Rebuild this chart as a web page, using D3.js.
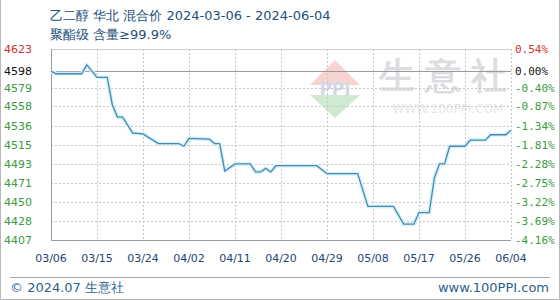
<!DOCTYPE html>
<html>
<head>
<meta charset="utf-8">
<script src="https://cdn.jsdelivr.net/npm/d3@7"></script>
<style>
  body { margin: 0; background: #fff; }
  svg text { font-family: "DejaVu Sans", Verdana, sans-serif; }
</style>
</head>
<body>
<div id="chart"></div>
<script>
const canvas_w = 560;
const canvas_h = 300;

// readings
const dates  = [ '2024-03-06', '2024-03-07', '2024-03-12', '2024-03-13', '2024-03-15', '2024-03-17',
                 '2024-03-18', '2024-03-19', '2024-03-20', '2024-03-22', '2024-03-24', '2024-03-27',
                 '2024-03-31', '2024-04-01', '2024-04-02', '2024-04-06', '2024-04-07', '2024-04-08',
                 '2024-04-09', '2024-04-11', '2024-04-14', '2024-04-15', '2024-04-16', '2024-04-17',
                 '2024-04-18', '2024-04-19', '2024-04-27', '2024-04-29', '2024-05-05', '2024-05-07',
                 '2024-05-12', '2024-05-14', '2024-05-16', '2024-05-17', '2024-05-19', '2024-05-20',
                 '2024-05-21', '2024-05-22', '2024-05-23', '2024-05-26', '2024-05-27', '2024-05-30',
                 '2024-05-31', '2024-06-03', '2024-06-04' ];
const prices = [ 4598, 4595, 4595, 4605, 4591, 4591,
                 4560, 4546, 4546, 4528, 4527, 4516,
                 4516, 4513, 4522, 4521, 4516, 4516,
                 4485, 4493, 4493, 4484, 4484, 4488,
                 4484, 4491, 4491, 4482, 4482, 4445,
                 4445, 4425, 4425, 4438, 4438, 4477,
                 4493, 4493, 4513, 4513, 4520, 4520,
                 4526, 4526, 4531 ];

const basePrice   = 4598;
const yTicks      = [ 4623, 4598, 4579, 4558, 4536, 4515, 4493, 4471, 4450, 4428, 4407 ];
const pctLabels   = [ '0.54%', '0.00%', '-0.40%', '-0.87%', '-1.34%', '-1.81%', '-2.28%',
                      '-2.75%', '-3.22%', '-3.69%', '-4.16%' ];
const xTicks      = [ '2024-03-06', '2024-03-15', '2024-03-24', '2024-04-02', '2024-04-11', '2024-04-20',
                      '2024-04-29', '2024-05-08', '2024-05-17', '2024-05-26', '2024-06-04' ];

const title1 = '乙二醇 华北 混合价 2024-03-06 - 2024-06-04';
const title2 = '聚酯级 含量≥99.9%';

const parse = d3.timeParse( '%Y-%m-%d' );
const fmt   = d3.timeFormat( '%m/%d' );

const pLeft = 51, pRight = 511, pTop = 49, pBottom = 240;

let x = d3.scaleTime()
          .domain( [ parse( xTicks[0] ), parse( xTicks[xTicks.length - 1] ) ] )
          .range( [ pLeft, pRight ] );
let y = d3.scaleLinear()
          .domain( [ 4407, 4623 ] )
          .range( [ pBottom, pTop ] );

let svg = d3.select( '#chart' )
            .append( 'svg' )
            .attr( 'width', canvas_w )
            .attr( 'height', canvas_h );

// outer frame (no top edge)
svg.append( 'path' )
   .attr( 'd', `M0.5,0 V${canvas_h - 0.5} H${canvas_w - 0.5} V0` )
   .attr( 'fill', 'none' )
   .attr( 'stroke', '#b8b8b8' );

// watermark
let wm = svg.append( 'g' ).attr( 'opacity', 0.22 );
wm.append( 'path' ).attr( 'd', 'M335,60 L360,85 L310,85 Z' ).attr( 'fill', '#e04030' );
wm.append( 'path' ).attr( 'd', 'M310,95 L360,95 L335,118 Z' ).attr( 'fill', '#30a030' );
wm.append( 'text' ).attr( 'x', 335 ).attr( 'y', 95 ).attr( 'text-anchor', 'middle' )
  .attr( 'font-size', 17 ).attr( 'font-weight', 'bold' ).attr( 'fill', '#3050a0' ).text( 'PPI' );
wm.append( 'text' ).attr( 'x', 448 ).attr( 'y', 88 ).attr( 'text-anchor', 'middle' )
  .attr( 'font-size', 36 ).attr( 'font-weight', 'bold' ).attr( 'letter-spacing', 10 )
  .attr( 'fill', '#606878' ).text( '生意社' );
wm.append( 'text' ).attr( 'x', 448 ).attr( 'y', 113 ).attr( 'text-anchor', 'middle' )
  .attr( 'font-size', 12 ).attr( 'fill', '#8890a0' ).text( 'WWW.100PPI.COM' );

// grid
svg.append( 'g' )
   .selectAll( 'line' )
   .data( yTicks.slice( 1, -1 ) )
   .enter()
   .append( 'line' )
   .attr( 'x1', pLeft ).attr( 'x2', pRight )
   .attr( 'y1', d => Math.round( y( d ) ) + 0.5 )
   .attr( 'y2', d => Math.round( y( d ) ) + 0.5 )
   .attr( 'stroke', '#c8c8c8' )
   .attr( 'stroke-dasharray', '2,2' );

svg.append( 'g' )
   .selectAll( 'line' )
   .data( xTicks.slice( 1 ) )
   .enter()
   .append( 'line' )
   .attr( 'x1', d => Math.round( x( parse( d ) ) ) + 0.5 )
   .attr( 'x2', d => Math.round( x( parse( d ) ) ) + 0.5 )
   .attr( 'y1', pTop ).attr( 'y2', pBottom )
   .attr( 'stroke', '#c8c8c8' )
   .attr( 'stroke-dasharray', '2,2' );

// top edge
svg.append( 'line' )
   .attr( 'x1', pLeft ).attr( 'x2', pRight )
   .attr( 'y1', pTop + 0.5 ).attr( 'y2', pTop + 0.5 )
   .attr( 'stroke', '#cfcfcf' );

// base price line
svg.append( 'line' )
   .attr( 'x1', pLeft ).attr( 'x2', pRight )
   .attr( 'y1', Math.round( y( basePrice ) ) + 0.5 )
   .attr( 'y2', Math.round( y( basePrice ) ) + 0.5 )
   .attr( 'stroke', '#9a9a9a' );

// left & bottom axis lines
svg.append( 'path' )
   .attr( 'd', `M${pLeft + 0.5},${pTop} V${pBottom + 0.5} H${pRight}` )
   .attr( 'fill', 'none' )
   .attr( 'stroke', '#9a9a9a' );

// price line with glow
let line = d3.line()
             .x( (d, i) => x( parse( dates[i] ) ) )
             .y( d => y( d ) );

svg.append( 'path' )
   .attr( 'd', line( prices ) )
   .attr( 'fill', 'none' )
   .attr( 'stroke', '#d4f2fa' )
   .attr( 'stroke-width', 4 )
   .attr( 'stroke-linejoin', 'round' );
svg.append( 'path' )
   .attr( 'd', line( prices ) )
   .attr( 'fill', 'none' )
   .attr( 'stroke', '#4a88b2' )
   .attr( 'stroke-width', 1.3 );

// left labels
const tickColor = (i) => i === 0 ? '#d03030' : ( i === 1 ? '#111' : '#3c9a3c' );
svg.append( 'g' )
   .selectAll( 'text' )
   .data( yTicks )
   .enter()
   .append( 'text' )
   .attr( 'x', 4 )
   .attr( 'y', d => y( d ) + 4 )
   .attr( 'font-size', 11 )
   .attr( 'font-family', 'Verdana, "DejaVu Sans", sans-serif' )
   .attr( 'fill', (d, i) => tickColor( i ) )
   .text( d => d );

// right labels
svg.append( 'g' )
   .selectAll( 'text' )
   .data( pctLabels )
   .enter()
   .append( 'text' )
   .attr( 'x', 515 )
   .attr( 'y', (d, i) => y( yTicks[i] ) + 4 )
   .attr( 'font-size', 11 )
   .style( 'font-family', '"DejaVu Sans Mono", monospace' )
   .attr( 'fill', (d, i) => tickColor( i ) )
   .text( d => d );

// x labels
svg.append( 'g' )
   .selectAll( 'text' )
   .data( xTicks )
   .enter()
   .append( 'text' )
   .attr( 'x', d => x( parse( d ) ) )
   .attr( 'y', 262 )
   .attr( 'text-anchor', 'middle' )
   .attr( 'font-size', 11 )
   .attr( 'fill', '#1f4470' )
   .text( d => fmt( parse( d ) ) );

// titles
svg.append( 'text' ).attr( 'x', 50 ).attr( 'y', 20 )
   .attr( 'font-size', 13 ).attr( 'fill', '#1d4f7c' ).text( title1 );
svg.append( 'text' ).attr( 'x', 50 ).attr( 'y', 39 )
   .attr( 'font-size', 13 ).attr( 'fill', '#1d4f7c' ).text( title2 );

// footer
svg.append( 'line' )
   .attr( 'x1', 10 ).attr( 'x2', 550 )
   .attr( 'y1', 277.5 ).attr( 'y2', 277.5 )
   .attr( 'stroke', '#a8a8a8' );
svg.append( 'text' ).attr( 'x', 10 ).attr( 'y', 292 )
   .attr( 'font-size', 13 ).attr( 'fill', '#2d5f8c' ).text( '© 2024.07 生意社' );
svg.append( 'text' ).attr( 'x', 549 ).attr( 'y', 292 ).attr( 'text-anchor', 'end' )
   .attr( 'font-size', 13 ).attr( 'fill', '#2d5f8c' ).text( 'www.100PPI.com' );
</script>
</body>
</html>
